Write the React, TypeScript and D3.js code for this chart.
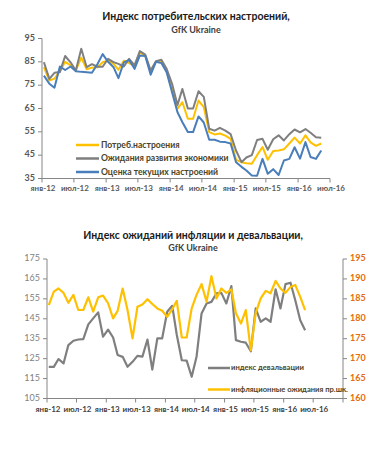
import React from 'react';
import * as d3 from 'd3';

const MONTHS = ['янв', 'фев', 'мар', 'апр', 'май', 'июн', 'июл', 'авг', 'сен', 'окт', 'ноя', 'дек'];

// Top chart: consumer sentiment index (Jan 2012 .. May 2016)
const consumerSentiment = [82.7, 77, 77.8, 81, 85, 83.5, 81.3, 86.8, 81.8, 82.5, 82.7, 84.8, 85.5, 84.1, 81.6, 85.5, 84.5, 83.4, 89, 87.7, 81, 85, 85.4, 81, 73, 64.9, 67.7, 60.6, 60.6, 68.4, 65.6, 54.9, 53.9, 54.3, 53.4, 52, 43, 42, 41.5, 41.3, 45, 48.5, 43, 46.8, 47, 47.5, 50, 52.5, 50, 53.5, 50.5, 49, 50];
const economyExpectations = [84.8, 77.7, 80.3, 80.6, 87.5, 84.8, 81.3, 90.6, 82.7, 84, 82.9, 82.9, 86.3, 84.9, 84.1, 83, 86.3, 83.5, 89.6, 88.1, 81.3, 85.3, 85.9, 82, 75.6, 66.5, 73.4, 65, 65, 72.4, 70, 56.3, 55.5, 56.7, 55.5, 54, 47, 42, 44, 45, 51.5, 52, 47.3, 51.8, 53.5, 51.3, 54, 56, 54.8, 56.2, 54.6, 52.7, 52.5];
const currentAssessment = [79.1, 75.6, 73.9, 83, 81.5, 83, 81, 80.7, 80.5, 80.3, 84, 88.3, 85, 82.7, 78, 84.8, 85.8, 82, 87.7, 87.5, 79.5, 85, 84.5, 80.5, 72, 63.4, 59.1, 54.9, 54.9, 61.6, 59, 51.6, 51.6, 50.8, 50.6, 50, 42, 40, 38.4, 36.3, 36.2, 43.4, 37, 39, 36.5, 42.7, 43.4, 48.4, 43.5, 50.6, 44.2, 43.4, 47];

// Bottom chart
const devaluationIndex = [120.9, 120.9, 124.8, 122.6, 131.8, 134, 134.6, 134.8, 142.2, 145.2, 148.2, 136, 139.6, 135.6, 126.8, 125.9, 120.9, 123.4, 126.4, 126, 134.6, 119.5, 135.2, 135.2, 148.5, 151.5, 137, 124.2, 124, 115.9, 125.9, 147.7, 152.7, 153.5, 157.8, 158, 152.7, 161.4, 134.3, 133.5, 133, 128.7, 150.2, 143.5, 145.2, 143.5, 159.8, 150.2, 162.4, 163.1, 154.4, 144.3, 139.3];
const inflationExpectations = [183.4, 186.8, 187.6, 186.5, 184, 186, 182.2, 182.2, 185.4, 181.8, 185.4, 185.8, 183.9, 180.1, 182, 187.6, 182.2, 175.1, 183, 183.6, 184.9, 183.7, 182.6, 182, 180.5, 182.4, 184.5, 175.3, 175.3, 182.6, 186, 188.7, 184.3, 190.7, 185.1, 187.6, 186.5, 187.4, 181.4, 178.8, 182.2, 172.1, 181.4, 185.1, 187, 186.4, 189.5, 187.6, 186.5, 188, 188.5, 185.5, 182.2];

const topYTicks = [35, 45, 55, 65, 75, 85, 95];
const bottomLeftTicks = [105, 115, 125, 135, 145, 155, 165, 175];
const bottomRightTicks = [160, 165, 170, 175, 180, 185, 190, 195];

const topLegend = ['Потреб.настроения', 'Ожидания развития экономики', 'Оценка текущих настроений'];
const bottomLegend = ['индекс девальвации', 'инфляционные ожидания пр.шк.'];

const YELLOW = '#FFC000';
const GRAY = '#7F7F7F';
const BLUE = '#4A7EBB';
const AXIS = '#868686';
const FONT = "Lato, 'Open Sans', sans-serif";
const LEGEND_TEXT = '#494429';

const fmt = (d: Date) => `${MONTHS[d.getMonth()]}-${String(d.getFullYear()).slice(2)}`;

export default function App() {
  const dates = consumerSentiment.map((_, i) => new Date(2012, i, 12));

  // ---------- top chart scales
  const xTop = d3.scaleTime().domain([new Date(2012, 0, 1), new Date(2016, 6, 1)]).range([42, 330]);
  const yTop = d3.scaleLinear().domain([35, 95]).range([178.5, 38.5]);
  const topXTicks = d3.timeMonth.every(6)!.range(new Date(2012, 0, 1), new Date(2016, 6, 2));
  const lineTop = (vals: number[]) =>
    d3.line<number>().x((_, i) => xTop(dates[i])).y((v) => yTop(v))(vals) || '';

  // ---------- bottom chart scales
  const xBot = d3.scaleTime().domain([new Date(2012, 0, 1), new Date(2017, 0, 1)]).range([47, 343]);
  const yBotL = d3.scaleLinear().domain([105, 175]).range([398.5, 259]);
  const yBotR = d3.scaleLinear().domain([160, 195]).range([398.5, 259]);
  const botXTicks = d3.timeMonth.every(6)!.range(new Date(2012, 0, 1), new Date(2017, 0, 2));
  const lineBotL = d3.line<number>().x((_, i) => xBot(dates[i])).y((v) => yBotL(v));
  const lineBotR = d3.line<number>().x((_, i) => xBot(dates[i])).y((v) => yBotR(v));

  const topColors = [YELLOW, GRAY, BLUE];
  const topSeries = [consumerSentiment, economyExpectations, currentAssessment];

  return (
    <svg
      width={382}
      height={454}
      style={{ position: 'absolute', left: 0, top: 0, background: '#fff' }}
      fontFamily={FONT}
    >
      <rect x={0} y={0} width={382} height={454} fill="#fff" />

      {/* ================= TOP CHART ================= */}
      <text x={196} y={17} textAnchor="middle" dominantBaseline="middle" fontSize={10.5} fontWeight={700} fill="#1a1a1a">
        Индекс потребительских настроений,
      </text>
      <text x={196} y={30.5} textAnchor="middle" dominantBaseline="middle" fontSize={9} fontWeight={700} fill="#404040">
        GfK Ukraine
      </text>

      {/* y axis */}
      <line x1={42} x2={42} y1={yTop(95)} y2={yTop(35)} stroke={AXIS} strokeWidth={1} />
      {topYTicks.map((t) => (
        <g key={t}>
          <line x1={38} x2={42} y1={yTop(t)} y2={yTop(t)} stroke={AXIS} />
          <text x={35} y={yTop(t)} textAnchor="end" dominantBaseline="middle" fontSize={9} fontWeight={700} fill="#595959">
            {t}
          </text>
        </g>
      ))}
      {/* x axis */}
      <line x1={42} x2={330} y1={yTop(35)} y2={yTop(35)} stroke={AXIS} />
      {topXTicks.map((d) => (
        <g key={+d}>
          <line x1={xTop(d)} x2={xTop(d)} y1={yTop(35)} y2={yTop(35) + 4} stroke={AXIS} />
          <text x={xTop(d) + 1} y={189} textAnchor="middle" dominantBaseline="middle" fontSize={8} fontWeight={700} fill="#595959">
            {fmt(d)}
          </text>
        </g>
      ))}

      {topSeries.map((s, k) => (
        <path key={k} d={lineTop(s)} fill="none" stroke={topColors[k]} strokeWidth={2} strokeLinejoin="round" />
      ))}

      {/* top legend */}
      {topLegend.map((name, k) => (
        <g key={name}>
          <line x1={76} x2={99} y1={145 + k * 13.5} y2={145 + k * 13.5} stroke={topColors[k]} strokeWidth={2.5} />
          <text x={101} y={145.5 + k * 13.5} dominantBaseline="middle" fontSize={8.6} fontWeight={700} fill={LEGEND_TEXT}>
            {name}
          </text>
        </g>
      ))}

      {/* ================= BOTTOM CHART ================= */}
      <text x={193} y={236} textAnchor="middle" dominantBaseline="middle" fontSize={10.5} fontWeight={700} fill="#1a1a1a">
        Индекс ожиданий инфляции и девальвации,
      </text>
      <text x={193} y={249} textAnchor="middle" dominantBaseline="middle" fontSize={9} fontWeight={700} fill="#404040">
        GfK Ukraine
      </text>

      {/* left axis */}
      <line x1={47} x2={47} y1={yBotL(175)} y2={yBotL(105)} stroke={AXIS} />
      {bottomLeftTicks.map((t) => (
        <g key={t}>
          <line x1={43} x2={47} y1={yBotL(t)} y2={yBotL(t)} stroke={AXIS} />
          <text x={40} y={yBotL(t)} textAnchor="end" dominantBaseline="middle" fontSize={9} fill="#7F7F7F">
            {t}
          </text>
        </g>
      ))}
      {/* right axis */}
      <line x1={343} x2={343} y1={yBotR(195)} y2={yBotR(160)} stroke={AXIS} />
      {bottomRightTicks.map((t) => (
        <g key={t}>
          <line x1={343} x2={347} y1={yBotR(t)} y2={yBotR(t)} stroke={AXIS} />
          <text x={350} y={yBotR(t)} textAnchor="start" dominantBaseline="middle" fontSize={9} fontWeight={700} fill="#E46C0A">
            {t}
          </text>
        </g>
      ))}
      {/* x axis */}
      <line x1={47} x2={343} y1={yBotL(105)} y2={yBotL(105)} stroke={AXIS} />
      {botXTicks.map((d, i) => (
        <g key={+d}>
          <line x1={xBot(d)} x2={xBot(d)} y1={yBotL(105)} y2={yBotL(105) + 4} stroke={AXIS} />
          {i < botXTicks.length - 1 && (
            <text x={xBot(d) + 1} y={410} textAnchor="middle" dominantBaseline="middle" fontSize={8} fontWeight={700} fill="#3f3f3f">
              {fmt(d)}
            </text>
          )}
        </g>
      ))}

      <path d={lineBotL(devaluationIndex) || ''} fill="none" stroke={GRAY} strokeWidth={2.2} strokeLinejoin="round" />
      <path d={lineBotR(inflationExpectations) || ''} fill="none" stroke={YELLOW} strokeWidth={2.2} strokeLinejoin="round" />

      {/* bottom legend */}
      {bottomLegend.map((name, k) => (
        <g key={name}>
          <line x1={208} x2={230} y1={368 + k * 21.5} y2={368 + k * 21.5} stroke={k === 0 ? GRAY : YELLOW} strokeWidth={2.5} />
          <text x={231} y={368.5 + k * 21.5} dominantBaseline="middle" fontSize={7.6} fontWeight={700} fill={LEGEND_TEXT}>
            {name}
          </text>
        </g>
      ))}
    </svg>
  );
}
